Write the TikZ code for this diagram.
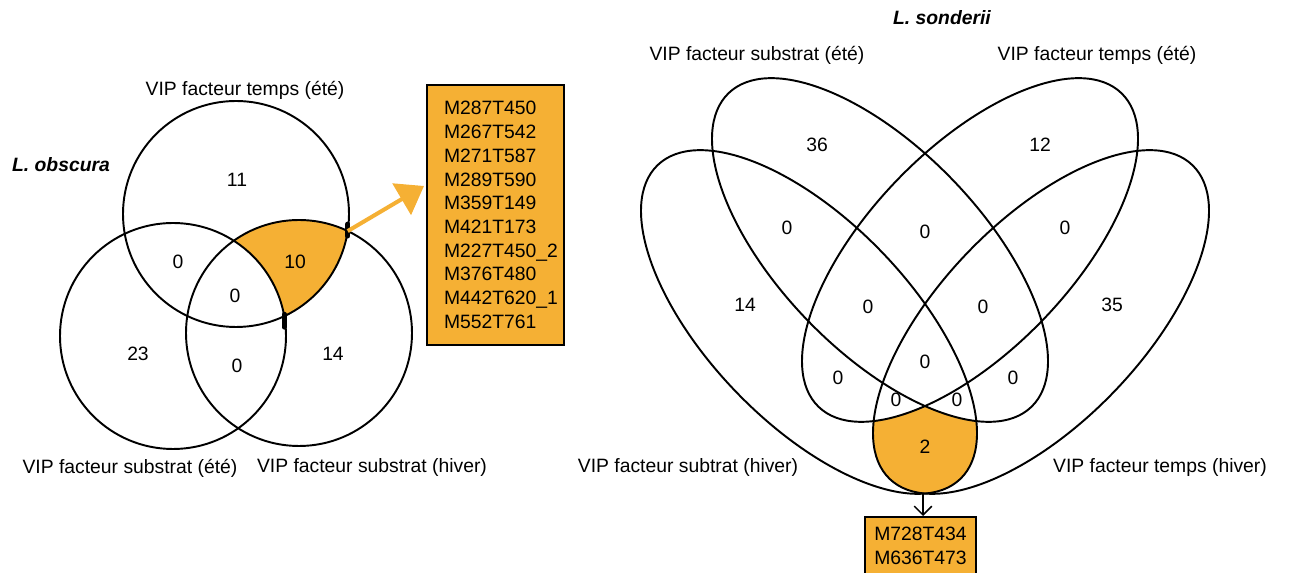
\documentclass[tikz,border=0pt]{standalone}
\usepackage{fontspec}
\setmainfont{Liberation Sans}
\usepackage{tikz}
\usetikzlibrary{
    arrows.meta,
    positioning,
    intersections
}
\definecolor{Vorange}{RGB}{245, 176, 52}
\tikzset{
    vset/.style={draw=black, line width=1.1pt},
    vnum/.style={font=\fontsize{11}{13.5}\selectfont, inner sep=1pt},
    vlab/.style={font=\fontsize{11}{13.5}\selectfont, inner sep=1pt},
    vtitle/.style={font=\fontsize{11}{13.5}\selectfont\bfseries\itshape, inner sep=1pt},
    vbox/.style={
        rectangle, draw=black, fill=Vorange, line width=0.9pt,
        align=left, font=\fontsize{11}{13.5}\selectfont
    },
    varr/.style={-{Triangle[length=0.52cm, width=0.72cm]}, line width=2.3pt, Vorange},
    vdown/.style={-{Straight Barb[length=5pt, width=10pt]}, line width=0.9pt, black},
    vtick/.style={line width=2.8pt, line cap=round},
    elL/.style={rotate around={-46:(#1)}},
    elR/.style={rotate around={46:(#1)}},
}

\begin{document}
\begin{tikzpicture}[x=0.02cm, y=0.02cm]
    \useasboundingbox (0,0) rectangle (1289,-573);

    % L. obscura : three circles
    \coordinate (cT) at (236,-214);
    \coordinate (cL) at (173,-336);
    \coordinate (cR) at (299,-333);

    \begin{scope}
        \clip (cT) circle [radius=113];
        \fill [Vorange] (cR) circle [radius=113];
        \fill [white] (cL) circle [radius=113];
    \end{scope}
    \draw [vset, name path=pT] (cT) circle [radius=113];
    \draw [vset, name path=pL] (cL) circle [radius=113];
    \draw [vset, name path=pR] (cR) circle [radius=113];

    % the two marks on the crossings
    \path [name intersections={of=pT and pR, by={xA,xB}}];
    \path [name intersections={of=pT and pL, by={xC,xD}}];
    \draw [vtick] ([yshift=-0.1cm]xB) -- ([yshift=0.14cm]xB);
    \draw [vtick] ([yshift=-0.22cm]xD) -- ([yshift=0.04cm]xD);

    \node [vtitle, anchor=west] (tObs) at (10,-165) {L. obscura};
    \node [vlab] (sTe) at (245,-90) {VIP facteur temps (été)};
    \node [vlab] (sSe) at (130,-468) {VIP facteur substrat (été)};
    \node [vlab] (sSh) at (372,-468) {VIP facteur substrat (hiver)};

    \node [vnum] (lT) at (237,-180) {11};
    \node [vnum] (lTL) at (178,-262) {0};
    \node [vnum] (lTR) at (295,-262) {10};
    \node [vnum] (lC) at (235,-296) {0};
    \node [vnum] (lL) at (138,-354) {23};
    \node [vnum] (lB) at (237,-366) {0};
    \node [vnum] (lR) at (333,-354) {14};

    \node [vbox, text width=2.06cm, inner xsep=0.34cm, minimum height=5.2cm]
        (lst1) at (495.5,-215) {M287T450\\M267T542\\M271T587\\M289T590\\M359T149\\M421T173\\M227T450\_2\\M376T480\\M442T620\_1\\M552T761};

    \coordinate (aE) at (424,-186);
    \draw [varr] (xB) -- (aE);

    % L. sonderii : four ellipses
    \coordinate (eOL) at (809,-322);
    \coordinate (eIL) at (880,-250);
    \coordinate (eIR) at (970,-250);
    \coordinate (eOR) at (1041,-322);

    \begin{scope}
        \clip [elL=eOL] (eOL) ellipse [x radius=218, y radius=101];
        \fill [Vorange, elR=eOR] (eOR) ellipse [x radius=218, y radius=101];
        \fill [white, elL=eIL] (eIL) ellipse [x radius=218, y radius=101];
        \fill [white, elR=eIR] (eIR) ellipse [x radius=218, y radius=101];
    \end{scope}
    \draw [vset, elL=eOL] (eOL) ellipse [x radius=218, y radius=101];
    \draw [vset, elL=eIL] (eIL) ellipse [x radius=218, y radius=101];
    \draw [vset, elR=eIR] (eIR) ellipse [x radius=218, y radius=101];
    \draw [vset, elR=eOR] (eOR) ellipse [x radius=218, y radius=101];

    \node [vtitle] (tSon) at (942,-18) {L. sonderii};
    \node [vlab] (rSe) at (757,-55) {VIP facteur substrat (été)};
    \node [vlab] (rTe) at (1097,-55) {VIP facteur temps (été)};
    \node [vlab] (rSh) at (688,-468) {VIP facteur subtrat (hiver)};
    \node [vlab] (rTh) at (1160,-468) {VIP facteur temps (hiver)};

    \node [vnum] (r1) at (817,-145) {36};
    \node [vnum] (r2) at (1040,-145) {12};
    \node [vnum] (r3) at (787,-228) {0};
    \node [vnum] (r4) at (925,-232) {0};
    \node [vnum] (r5) at (1065,-228) {0};
    \node [vnum] (r6) at (745,-305) {14};
    \node [vnum] (r7) at (868,-307) {0};
    \node [vnum] (r8) at (983,-307) {0};
    \node [vnum] (r9) at (1112,-305) {35};
    \node [vnum] (r10) at (925,-362) {0};
    \node [vnum] (r11) at (838,-378) {0};
    \node [vnum] (r12) at (1013,-378) {0};
    \node [vnum] (r13) at (896,-400) {0};
    \node [vnum] (r14) at (957,-400) {0};
    \node [vnum] (r15) at (925,-447) {2};

    \node [vbox, align=center, anchor=north, minimum width=2.22cm, inner ysep=5.8pt]
        (lst2) at (920.5,-516) {M728T434\\M636T473};
    \coordinate (bT) at (923,-493);
    \draw [vdown] (bT) -- (bT |- lst2.north);

\end{tikzpicture}
\end{document}
